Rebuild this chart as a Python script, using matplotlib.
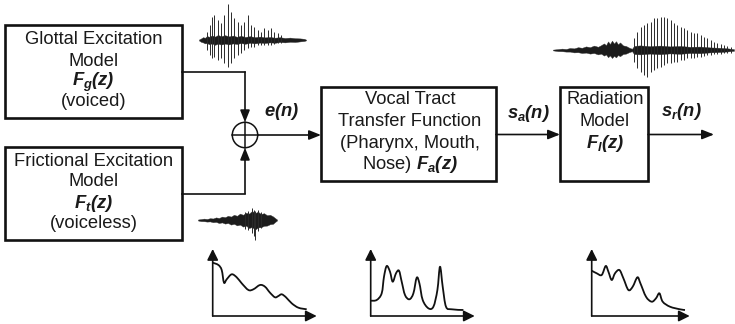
"""Source-filter model of speech production: block diagram."""

import matplotlib
matplotlib.use("Agg")
import matplotlib.pyplot as plt
from matplotlib.patches import Rectangle, Circle, PathPatch
from matplotlib.path import Path

W, H = 735, 324
INK = "#111111"

plt.rcParams["font.family"] = ["Liberation Sans", "DejaVu Sans"]
plt.rcParams["mathtext.fontset"] = "custom"
plt.rcParams["mathtext.rm"] = "Liberation Sans:bold:italic"
plt.rcParams["mathtext.it"] = "Liberation Sans:bold:italic"
plt.rcParams["mathtext.bf"] = "Liberation Sans:bold:italic"

# --- block texts ---------------------------------------------------------
glottal_lines = ["Glottal Excitation", "Model", r"$F_g(z)$", "(voiced)"]
frictional_lines = ["Frictional Excitation", "Model", r"$F_t(z)$", "(voiceless)"]
tract_lines = ["Vocal Tract", "Transfer Function", "(Pharynx, Mouth,", r"Nose) $F_a(z)$"]
radiation_lines = ["Radiation", "Model", r"$F_l(z)$"]
signal_labels = [r"$e(n)$", r"$s_a(n)$", r"$s_r(n)$"]

# --- spectra (freq offset / level above axis, in px) ---------------------
glottal_spec_f = [0, 5.7, 9, 11.3, 14, 19, 24, 29, 35.7, 40.7, 47.3, 52.3,
                  57.3, 62.3, 65.7, 69, 73.3, 79, 85.7, 94]
glottal_spec_a = [53.3, 51, 46, 33.3, 36.7, 41.7, 38.7, 32.7, 26, 26.7, 31, 29.3,
                  23.3, 18.7, 20, 21.7, 18.7, 12.7, 8.3, 6.7]

tract_spec_f = [0, 6, 11, 13.3, 16, 19.3, 22, 25.3, 28.3, 31, 34.3, 38.7, 42.7,
                46, 48.7, 52, 57.7, 62.7, 66.7, 69.3, 72, 75.3, 81, 92.7]
tract_spec_a = [15.3, 16, 22.7, 39.3, 50, 44.3, 34.3, 42.7, 45.3, 34.3, 21, 16.7, 22.7,
                38.3, 32.7, 16, 7.7, 9.3, 26, 49.3, 29.3, 9.3, 6.7, 6]

speech_spec_f = [0, 5, 10, 14, 16.7, 20, 23.3, 27.7, 31.7, 36.7, 41, 45.7, 48.7,
                 54.3, 60, 64.3, 67.7, 71, 78.3, 88.3, 93.3]
speech_spec_a = [45.3, 42.7, 41, 50, 44.3, 36, 42.7, 46, 37.7, 26, 29.3, 38.7, 32.7,
                 19.3, 14.3, 17.7, 22.7, 14.3, 9.3, 6.7, 6]

# --- waveforms: pitch spikes (t, up, down) and noise envelope (t, up, down) ---
voiced_spike_t = [11.7, 15, 16.7, 19.3, 22.7, 26, 29.3, 32.7, 36, 39.3, 42.7, 46,
                  49.3, 52.7, 56, 59.3, 62.7, 66, 69.3, 72.7, 76, 79.3, 82.7, 86]
voiced_spike_up = [8.3, 15, 23.3, 25, 20, 16.7, 25, 36, 28.3, 21.7, 18.3, 15,
                   18.3, 25, 15, 13.3, 10, 8.3, 11.7, 10, 11.7, 8.3, 6.7, 5]
voiced_spike_dn = [10, 15, 18.3, 16.7, 20, 18.3, 23.3, 26.7, 23.3, 18.3, 15, 13.3,
                   10, 8.3, 6.7, 6.7, 5, 5, 5, 5, 5, 4, 3.3, 2.7]
voiced_env_t = [4, 6, 8, 10, 12, 14, 17, 20, 23, 26, 30, 34, 38, 42, 46, 50, 55, 60,
                65, 70, 75, 80, 85, 90, 95, 100, 105, 109, 111]
voiced_env_up = [0.5, 1.5, 2.8, 2.2, 4.0, 3.2, 4.6, 3.4, 5.0, 3.8, 4.8, 3.6, 4.4, 3.2,
                 4.2, 3.0, 3.8, 2.8, 3.4, 2.6, 3.0, 2.3, 2.8, 2.0, 2.4, 1.8, 1.6, 1.2, 0.4]
voiced_env_dn = [0.5, 1.8, 2.4, 3.4, 3.0, 4.2, 3.4, 4.8, 3.6, 4.6, 3.6, 4.4, 3.4, 4.0,
                 3.0, 3.8, 2.8, 3.4, 2.6, 3.0, 2.4, 2.8, 2.0, 2.4, 1.8, 2.0, 1.4, 1.0, 0.4]

unvoiced_env_t = [3, 6, 9, 12, 15, 18, 21, 24, 27, 30, 33, 36, 39, 42, 45, 48, 51, 54,
                  57, 60, 63, 66, 69, 72, 75, 78, 80, 82]
unvoiced_env_up = [0.5, 0.9, 1.4, 1.0, 1.8, 1.5, 2.6, 2.0, 3.4, 2.8, 4.2, 3.4, 5.2, 4.2,
                   6.4, 5.2, 7.2, 6.4, 9.0, 7.0, 8.2, 6.0, 6.8, 4.8, 5.2, 3.6, 2.0, 0.5]
unvoiced_env_dn = [0.5, 1.1, 1.2, 1.6, 1.4, 2.2, 1.9, 3.0, 2.4, 3.6, 3.0, 4.6, 3.8, 5.4,
                   4.6, 6.6, 5.6, 8.0, 7.0, 9.6, 7.4, 7.2, 5.8, 5.6, 4.2, 3.8, 2.0, 0.5]
unvoiced_spike_t = [50, 53, 56.7, 58.5, 60, 63, 66]
unvoiced_spike_up = [8, 9, 12, 10, 9, 10, 8]
unvoiced_spike_dn = [9, 10, 13, 16, 20, 11, 8]

speech_spike_t = [84, 87.3, 90.7, 94, 97.3, 100.7, 104, 107.3, 110.7, 114, 117.3, 120.7,
                  124, 127.3, 130.7, 134, 137.3, 140.7, 144, 147.3, 150.7, 154, 157.3,
                  160.7, 164, 167.3, 170.7, 174, 177.3, 180.7]
speech_spike_up = [11.7, 18.3, 23.3, 25, 26.7, 28.3, 31.7, 32.3, 33.3, 33.3, 31.7, 30,
                   26.7, 25, 23.3, 21.7, 20, 18.3, 16.7, 16.7, 15, 13.3, 11.7, 10, 8.3,
                   6.7, 5.7, 5, 4.3, 3.3]
speech_spike_dn = [11.7, 18.3, 21.7, 25, 26.7, 21.7, 20, 18.3, 16.7, 15, 13.3, 13.3,
                   11.7, 11.7, 10, 10, 8.3, 8.3, 7.7, 6.7, 6.7, 5.7, 5, 5, 4.3, 4,
                   3.7, 3.3, 3.3, 2.7]
speech_env_t = [3, 8, 12, 16, 20, 24, 28, 32, 36, 40, 44, 48, 51, 54, 56, 58, 60, 62,
                64, 66, 68, 70, 73, 76, 79, 82, 84, 90, 100, 110, 120, 130, 140, 150,
                160, 170, 178, 184]
speech_env_up = [0.4, 0.9, 1.4, 1.0, 2.0, 1.6, 2.8, 2.2, 3.6, 2.8, 4.4, 3.2, 4.8, 6.6,
                 4.8, 8.6, 6.0, 9.4, 6.4, 8.8, 5.6, 7.6, 4.6, 4.0, 2.4, 1.2, 4.0, 4.6,
                 3.8, 4.4, 3.6, 4.0, 3.2, 3.4, 2.6, 2.2, 1.6, 0.8]
speech_env_dn = [0.4, 1.1, 1.2, 1.6, 1.6, 2.4, 2.2, 3.0, 2.6, 3.6, 3.0, 4.4, 3.6, 5.6,
                 4.4, 7.2, 5.4, 8.0, 5.8, 7.4, 5.0, 6.2, 4.0, 3.6, 2.2, 1.2, 4.0, 4.4,
                 3.6, 4.2, 3.4, 3.8, 3.0, 3.2, 2.4, 2.0, 1.4, 0.8]


def px_axes(fig, left, top, width, height):
    ax = fig.add_axes([left / W, 1 - (top + height) / H, width / W, height / H])
    ax.set_axis_off()
    ax.patch.set_alpha(0)
    return ax


def arrow(ax, start, end, lw=1.2, scale=13):
    ax.annotate("", xy=end, xytext=start,
                arrowprops=dict(arrowstyle="-|>,head_length=0.55,head_width=0.22",
                                color=INK, lw=lw, shrinkA=0, shrinkB=0,
                                mutation_scale=scale))


def block(ax, x0, y0, x1, y1, lines, ys, cx=None):
    ax.add_patch(Rectangle((x0, y0), x1 - x0, y1 - y0, fill=False,
                           ec=INK, lw=1.9, joinstyle="miter"))
    cx = (x0 + x1) / 2 if cx is None else cx
    for txt, y in zip(lines, ys):
        ax.text(cx, y, txt, ha="center", va="center", fontsize=13.2, color="#1a1a1a")


def smooth_path(xs, ys):
    # Catmull-Rom through the read points, drawn as cubic Bezier segments
    pts = list(zip(xs, ys))
    verts = [pts[0]]
    codes = [Path.MOVETO]
    for i in range(len(pts) - 1):
        p0 = pts[max(i - 1, 0)]
        p1, p2 = pts[i], pts[i + 1]
        p3 = pts[min(i + 2, len(pts) - 1)]
        c1 = (p1[0] + (p2[0] - p0[0]) / 6, p1[1] + (p2[1] - p0[1]) / 6)
        c2 = (p2[0] - (p3[0] - p1[0]) / 6, p2[1] - (p3[1] - p1[1]) / 6)
        verts += [c1, c2, p2]
        codes += [Path.CURVE4] * 3
    return Path(verts, codes)


def spectrum(fig, ox, oy, width, freqs, levels):
    ax = px_axes(fig, ox, oy - 67, width, 67)
    ax.set_xlim(0, width)
    ax.set_ylim(0, 67)
    for end in [(0, 67), (width, 0)]:
        ax.annotate("", xy=end, xytext=(0, 0),
                    arrowprops=dict(arrowstyle="-|>,head_length=0.6,head_width=0.3",
                                    color=INK, lw=1.2, shrinkA=0, shrinkB=0,
                                    mutation_scale=11),
                    annotation_clip=False)
    ax.add_patch(PathPatch(smooth_path(freqs, levels), fill=False, ec=INK, lw=1.3,
                           joinstyle="round", clip_on=False))


def waveform(fig, left, center, width, half, env_t, env_up, env_dn,
             spike_t, spike_up, spike_dn):
    ax = px_axes(fig, left, center - half, width, 2 * half)
    ax.set_xlim(0, width)
    ax.set_ylim(-half, half)
    ax.fill_between(env_t, [-v for v in env_dn], env_up, color="#1c1c1c", lw=0.3,
                    edgecolor="#333333")
    ax.vlines(spike_t, [-v for v in spike_dn], spike_up, color="#2a2a2a", lw=0.7)


def main():
    fig = plt.figure(figsize=(W / 100, H / 100), dpi=100)
    ax = fig.add_axes([0, 0, 1, 1])
    ax.set_xlim(0, W)
    ax.set_ylim(H, 0)
    ax.set_axis_off()

    # blocks
    block(ax, 5, 25, 182, 118, glottal_lines, [39.5, 61, 82, 102])
    block(ax, 5, 147, 182, 240, frictional_lines, [161.5, 182, 203.5, 224])
    block(ax, 321, 87, 496, 181, tract_lines, [100, 121, 143, 164.5], cx=410)
    block(ax, 560, 87, 648, 181, radiation_lines, [100, 121, 143], cx=605)

    # summing junction
    cx, cy, r = 245, 135, 12.7
    ax.add_patch(Circle((cx, cy), r, fill=False, ec=INK, lw=1.1))
    ax.plot([cx - r, cx + r], [cy, cy], color=INK, lw=1.1)
    ax.plot([cx, cx], [cy - r, cy + r], color=INK, lw=1.1)

    # connections
    ax.plot([182, cx], [72, 72], color=INK, lw=1.2)
    arrow(ax, (cx, 72), (cx, cy - r))
    ax.plot([182, cx], [193.5, 193.5], color=INK, lw=1.2)
    arrow(ax, (cx, 193.5), (cx, cy + r))
    arrow(ax, (cx + r, cy), (321, cy))
    arrow(ax, (496, 134.5), (560, 134.5))
    arrow(ax, (648, 134.5), (714, 134.5))

    # signal names
    for txt, (x, y) in zip(signal_labels, [(282, 112), (528, 113), (681, 112)]):
        ax.text(x, y, txt, ha="center", va="center", fontsize=13.2, color="#1a1a1a")

    # time signals
    waveform(fig, 195, 40, 115, 40, voiced_env_t, voiced_env_up, voiced_env_dn,
             voiced_spike_t, voiced_spike_up, voiced_spike_dn)
    waveform(fig, 195, 220, 90, 25, unvoiced_env_t, unvoiced_env_up, unvoiced_env_dn,
             unvoiced_spike_t, unvoiced_spike_up, unvoiced_spike_dn)
    waveform(fig, 550, 50, 185, 45, speech_env_t, speech_env_up, speech_env_dn,
             speech_spike_t, speech_spike_up, speech_spike_dn)

    # spectra
    spectrum(fig, 212.7, 316, 104, glottal_spec_f, glottal_spec_a)
    spectrum(fig, 370.7, 316, 104, tract_spec_f, tract_spec_a)
    spectrum(fig, 591.7, 316, 98, speech_spec_f, speech_spec_a)

    fig.savefig("out.png", dpi=100, facecolor="white")
    plt.close(fig)


if __name__ == "__main__":
    main()
